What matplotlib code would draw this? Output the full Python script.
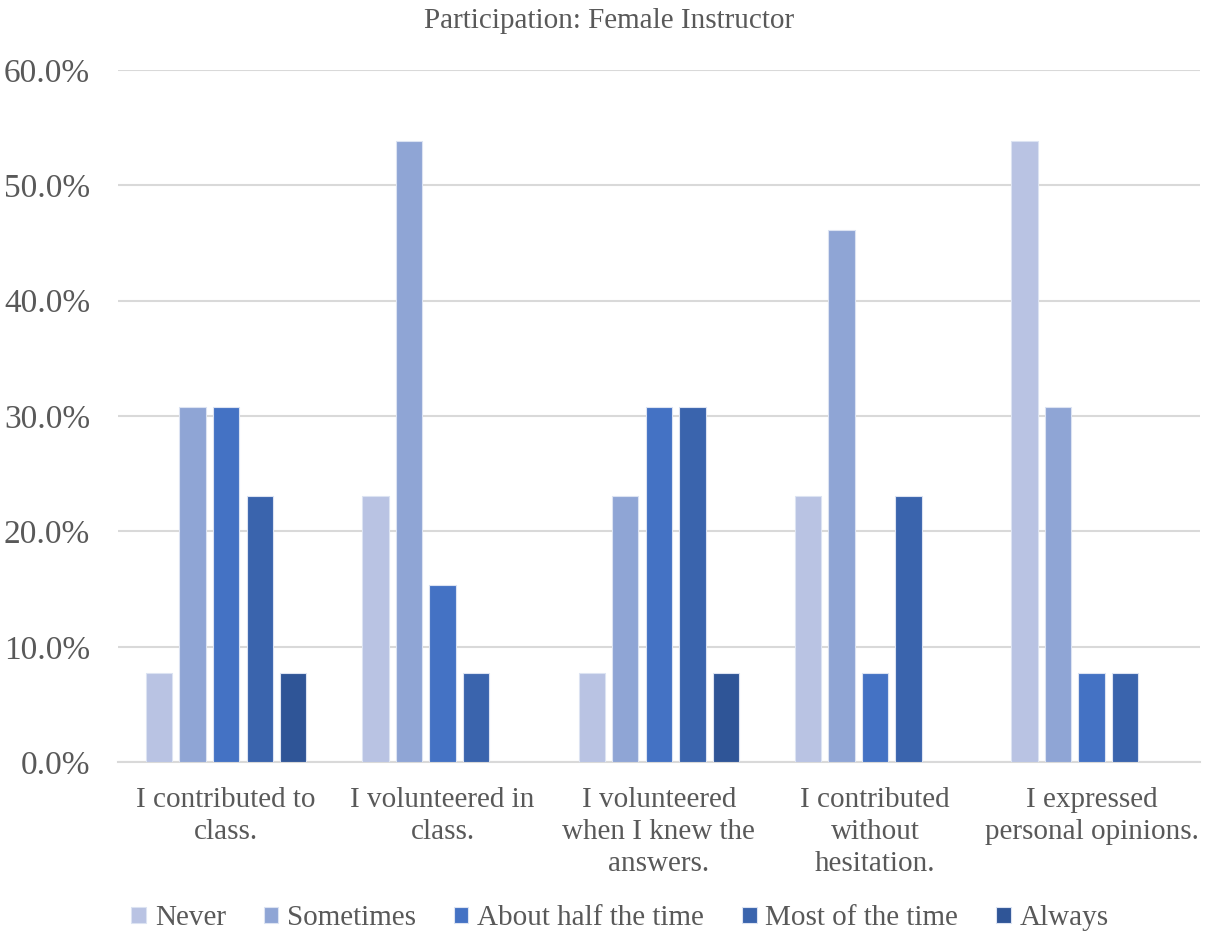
import matplotlib
matplotlib.use("Agg")
import matplotlib.pyplot as plt
import numpy as np
from matplotlib.ticker import FuncFormatter, MultipleLocator

plt.rcParams['font.family'] = ['Liberation Serif', 'DejaVu Serif']

categories = [
    "I contributed to\nclass.",
    "I volunteered in\nclass.",
    "I volunteered\nwhen I knew the\nanswers.",
    "I contributed\nwithout\nhesitation.",
    "I expressed\npersonal opinions.",
]
series_names = ["Never", "Sometimes", "About half the time", "Most of the time", "Always"]
never = [7.69, 23.08, 7.69, 23.08, 53.85]
sometimes = [30.77, 53.85, 23.08, 46.15, 30.77]
about_half = [30.77, 15.38, 30.77, 7.69, 7.69]
most = [23.08, 7.69, 30.77, 23.08, 7.69]
always = [7.69, 0.0, 7.69, 0.0, 0.0]
colors = ["#B9C3E3", "#8FA5D5", "#4472C4", "#3A64AD", "#2F5597"]

text_color = "#595959"

fig = plt.figure(figsize=(12.18, 9.41), dpi=100)
ax = fig.add_axes([0.0969, 0.190, 0.888, 0.7356])

x = np.arange(len(categories))
step = 0.155
width = 0.122
all_series = [never, sometimes, about_half, most, always]
for i, (vals, name, col) in enumerate(zip(all_series, series_names, colors)):
    ax.bar(x + (i - 2) * step, vals, width=width, color=col, label=name,
           edgecolor="#DCE3F2", linewidth=0.8, zorder=3)

ax.set_xlim(-0.5, len(categories) - 0.5)
ax.set_ylim(0, 60)
ax.yaxis.set_major_locator(MultipleLocator(10))
ax.yaxis.set_major_formatter(FuncFormatter(lambda v, p: f"{v:.1f}%"))
ax.grid(axis='y', color="#D9D9D9", linewidth=1.5, zorder=0)
ax.set_axisbelow(True)
for s in ["top", "right", "left"]:
    ax.spines[s].set_visible(False)
ax.spines["bottom"].set_color("#D9D9D9")
ax.spines["bottom"].set_linewidth(1.5)
ax.tick_params(axis='both', length=0, colors=text_color)
ax.tick_params(axis='y', labelsize=24, pad=20)
ax.set_xticks(x)
ax.set_xticklabels(categories, fontsize=21, color=text_color, linespacing=1.3)
ax.tick_params(axis='x', pad=18)
for lbl in ax.get_yticklabels():
    lbl.set_color(text_color)

fig.text(0.5, 0.978, "Participation: Female Instructor", ha='center', va='center',
         fontsize=21, color=text_color)

leg = fig.legend(loc='center', bbox_to_anchor=(0.509, 0.024), ncol=5, frameon=False,
                 fontsize=21, handlelength=0.5, handleheight=0.5, handletextpad=0.3,
                 columnspacing=1.3)
for t in leg.get_texts():
    t.set_color(text_color)

fig.savefig("out.png", dpi=100)
